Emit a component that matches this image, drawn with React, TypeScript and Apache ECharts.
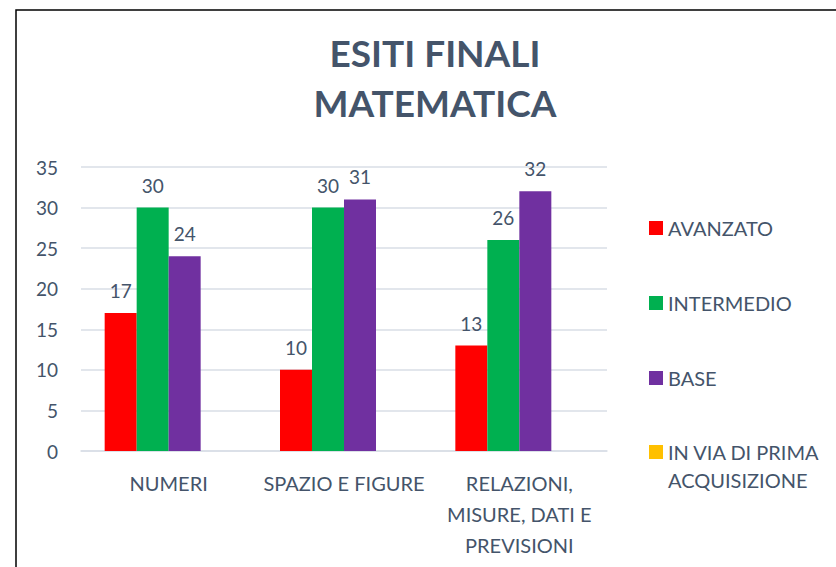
import React, { useEffect, useRef } from "react";
import * as echarts from "echarts";

const categories = ["NUMERI", "SPAZIO E FIGURE", "RELAZIONI,\nMISURE, DATI E\nPREVISIONI"];
const seriesNames = ["AVANZATO", "INTERMEDIO", "BASE", "IN VIA DI PRIMA ACQUISIZIONE"];
const avanzato = [17, 10, 13];
const intermedio = [30, 30, 26];
const base = [24, 31, 32];
const inViaDiPrima: (number | null)[] = [null, null, null];
const seriesColors = ["#FF0000", "#00B050", "#7030A0", "#FFC000"];
const titleText = "ESITI FINALI\nMATEMATICA";

const TEXT = "#44546A";
const FONT = "Lato, 'Noto Sans', sans-serif";

export default function App() {
  const ref = useRef<HTMLDivElement>(null);
  useEffect(() => {
    document.body.style.margin = "0";
    if (!ref.current) return;
    const chart = echarts.init(ref.current, null, { renderer: "svg" });
    const data = [avanzato, intermedio, base, inViaDiPrima];
    chart.setOption({
      animation: false,
      backgroundColor: "#FFFFFF",
      textStyle: { fontFamily: FONT },
      title: {
        text: titleText,
        left: 435,
        top: 27,
        padding: 0,
        textAlign: "center",
        textStyle: {
          fontFamily: FONT,
          fontSize: 37,
          fontWeight: "bold",
          color: TEXT,
          lineHeight: 50,
        },
      },
      graphic: [
        {
          type: "rect",
          shape: { x: 16, y: 10, width: 1000, height: 800 },
          style: { fill: "none", stroke: "#000000", lineWidth: 1.5 },
          silent: true,
          z: 100,
        },
      ],
      legend: [
        {
          data: seriesNames.slice(0, 3),
          orient: "vertical",
          left: 649,
          top: 216,
          padding: 0,
          itemWidth: 14,
          itemHeight: 14,
          itemGap: 51,
          icon: "rect",
          textStyle: { fontFamily: FONT, fontSize: 20, color: TEXT, lineHeight: 24 },
        },
        {
          data: [seriesNames[3]],
          orient: "vertical",
          left: 649,
          top: 410,
          padding: 0,
          itemWidth: 14,
          itemHeight: 14,
          icon: "rect",
          formatter: () => "\nIN VIA DI PRIMA\nACQUISIZIONE",
          textStyle: { fontFamily: FONT, fontSize: 20, color: TEXT, lineHeight: 28 },
        },
      ],
      grid: { left: 81, right: 229, top: 167, bottom: 116, containLabel: false },
      xAxis: {
        type: "category",
        data: categories,
        axisLine: { lineStyle: { color: "#D9DEE6", width: 1.5 } },
        axisTick: { show: false },
        axisLabel: {
          interval: 0,
          margin: 16,
          fontFamily: FONT,
          fontSize: 20,
          color: TEXT,
          lineHeight: 31,
          align: "center",
        },
      },
      yAxis: {
        type: "value",
        min: 0,
        max: 35,
        interval: 5,
        axisLine: { show: false },
        axisTick: { show: false },
        axisLabel: { margin: 23, fontFamily: FONT, fontSize: 19, color: TEXT },
        splitLine: { lineStyle: { color: "#D9DEE6", width: 1.5 } },
      },
      series: seriesNames.map((name, i) => ({
        name,
        type: "bar",
        data: data[i],
        barGap: "0%",
        barCategoryGap: "27%",
        itemStyle: { color: seriesColors[i] },
        label: {
          show: true,
          position: "top",
          distance: 13,
          fontFamily: FONT,
          fontSize: 19,
          color: TEXT,
        },
      })),
    });
    return () => chart.dispose();
  }, []);
  return <div ref={ref} style={{ width: 836, height: 567 }} />;
}
